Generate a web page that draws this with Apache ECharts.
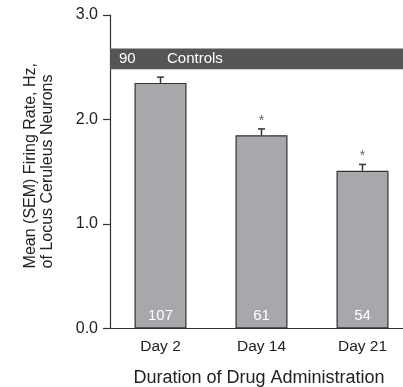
<!DOCTYPE html>
<html>
<head>
<meta charset="utf-8">
<script src="https://cdn.jsdelivr.net/npm/echarts@6/dist/echarts.min.js"></script>
<style>html,body{margin:0;padding:0;background:#fff;}#c{width:403px;height:387px;}</style>
</head>
<body>
<div id="c"></div>
<script>
const categories = ['Day 2', 'Day 14', 'Day 21'];
const meanRate = [2.35, 1.85, 1.51];
const semRate = [0.055, 0.06, 0.06];
const nNeurons = [107, 61, 54];
const significant = [false, true, true];
const controlLow = 2.48;
const controlHigh = 2.68;
const controlN = 90;
const yTicks = [0, 1, 2, 3];

const chart = echarts.init(document.getElementById('c'));
const font = 'Liberation Sans, Arial, Helvetica, sans-serif';

chart.setOption({
  animation: false,
  grid: { left: 110, top: 15, bottom: 58.5, right: -10, containLabel: false, outerBoundsMode: 'none' },
  xAxis: {
    type: 'category',
    data: categories,
    axisLine: { lineStyle: { color: '#333', width: 1.2 } },
    axisTick: { show: false },
    axisLabel: { color: '#222', fontSize: 15.5, fontFamily: font, margin: 10 },
    name: 'Duration of Drug Administration',
    nameLocation: 'middle',
    nameGap: 41,
    nameTextStyle: { color: '#222', fontSize: 18, fontFamily: font, padding: [0, 5, 0, 0] }
  },
  yAxis: {
    type: 'value',
    min: yTicks[0],
    max: yTicks[yTicks.length - 1],
    interval: 1,
    axisLine: { show: true, lineStyle: { color: '#333', width: 1.2 } },
    axisTick: { show: true, length: 7, lineStyle: { color: '#333', width: 1.2 } },
    splitLine: { show: false },
    axisLabel: { color: '#222', fontSize: 16, fontFamily: font, margin: 12, formatter: v => v.toFixed(1) }
  },
  graphic: [{
    type: 'text',
    left: 22,
    top: 63,
    rotation: Math.PI / 2,
    style: {
      text: 'Mean (SEM) Firing Rate, Hz,\nof Locus Ceruleus Neurons',
      fill: '#222',
      font: '16px ' + font,
      align: 'center',
      lineHeight: 17,
      x: 0, y: 0
    }
  }],
  series: [
    {
      type: 'bar',
      data: meanRate,
      barWidth: 52,
      itemStyle: { color: '#a7a8ab', borderColor: '#333', borderWidth: 1.2 },
      label: {
        show: true,
        position: 'insideBottom',
        distance: 5,
        color: '#fff',
        fontSize: 15,
        fontFamily: font,
        formatter: p => String(nNeurons[p.dataIndex])
      },
      markArea: {
        silent: true,
        itemStyle: { color: '#555556' },
        label: {
          show: true,
          position: 'insideLeft',
          distance: 9,
          formatter: '{a|' + controlN + '}{b|Controls}',
          rich: {
            a: { color: '#fff', fontSize: 15, fontFamily: font, width: 48 },
            b: { color: '#fff', fontSize: 15, fontFamily: font }
          }
        },
        data: [[{ yAxis: controlLow }, { yAxis: controlHigh }]]
      },
      z: 2
    },
    {
      type: 'custom',
      data: meanRate.map((m, i) => [i, m, m + semRate[i], significant[i] ? 1 : 0]),
      renderItem: (params, api) => {
        const base = api.coord([api.value(0), api.value(1)]);
        const top = api.coord([api.value(0), api.value(2)]);
        const children = [
          { type: 'line', shape: { x1: base[0], y1: base[1], x2: top[0], y2: top[1] }, style: { stroke: '#333', lineWidth: 1.5 } },
          { type: 'line', shape: { x1: top[0] - 3.5, y1: top[1], x2: top[0] + 3.5, y2: top[1] }, style: { stroke: '#333', lineWidth: 1.5 } }
        ];
        if (api.value(3)) {
          children.push({ type: 'text', style: { text: '*', x: top[0], y: top[1] - 8, align: 'center', verticalAlign: 'middle', fill: '#666', font: '14px ' + font } });
        }
        return { type: 'group', children };
      },
      z: 3
    }
  ]
});
</script>
</body>
</html>
